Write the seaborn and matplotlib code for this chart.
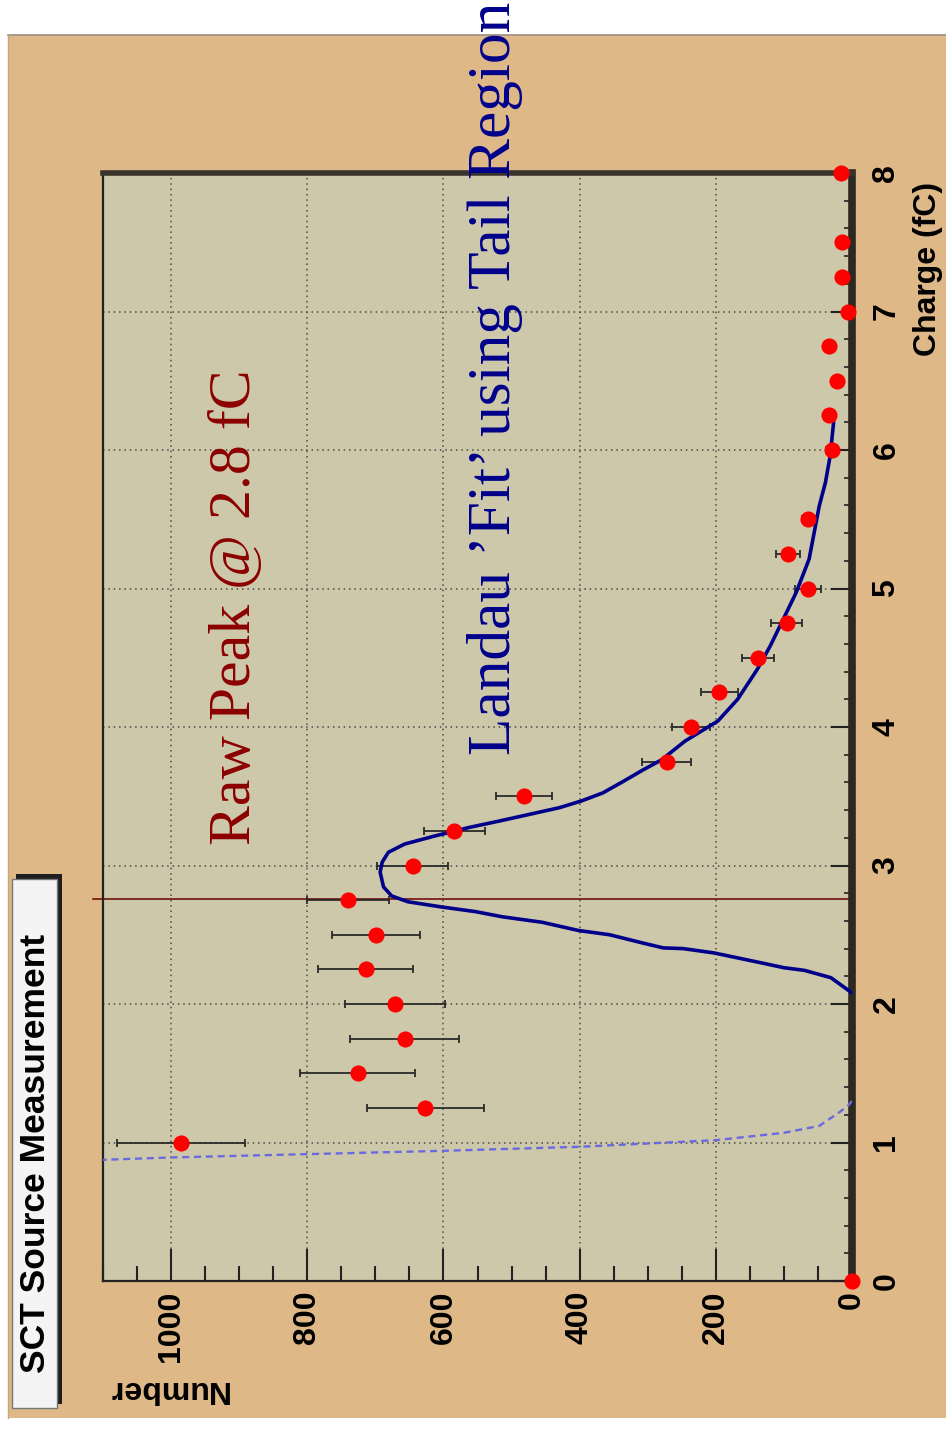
import numpy as np
import pandas as pd
import matplotlib
matplotlib.use('Agg')
import matplotlib.pyplot as plt
import seaborn as sns
from matplotlib.patches import Rectangle
from matplotlib.lines import Line2D
from matplotlib.ticker import FixedLocator, MultipleLocator

# ---------------- data ----------------
charge = [0.0, 1.0, 1.25, 1.5, 1.75, 2.0, 2.25, 2.5, 2.75, 3.0, 3.25, 3.5, 3.75,
          4.0, 4.25, 4.5, 4.75, 5.0, 5.25, 5.5, 6.0, 6.25, 6.5, 6.75, 7.0, 7.25, 7.5, 8.0]
counts = [0, 985, 627, 726, 657, 671, 714, 699, 740, 645, 584, 482, 272,
          237, 195, 138, 96, 64, 94, 64, 30, 34, 22, 34, 6, 15, 14, 16]
count_err = [0, 94, 86, 84, 80, 74, 70, 65, 60, 52, 45, 41, 36,
             28, 27, 23, 23, 19, 18, 10, 8, 7, 5, 6, 3, 4, 4, 4]

fit_charge = [2.08, 2.19, 2.243, 2.262, 2.298, 2.369, 2.40, 2.405, 2.44, 2.50, 2.531,
              2.59, 2.63, 2.667, 2.70, 2.738, 2.78, 2.845, 2.952, 3.024, 3.095, 3.155,
              3.214, 3.274, 3.32, 3.369, 3.417, 3.465, 3.524, 3.607, 3.69, 3.762, 3.899,
              4.043, 4.2, 4.417, 4.586, 4.778, 4.971, 5.212, 5.598, 5.766, 5.959, 6.2, 6.236]
fit_counts = [0, 31, 70, 100, 134, 203, 248, 277, 307, 356, 402,
              455, 514, 553, 602, 652, 676, 688, 693, 690, 681, 657,
              612, 563, 519, 474, 430, 398, 366, 336, 307, 280, 245,
              197, 168, 139, 120, 101, 82, 63, 48, 39, 32, 27, 28]

tail_charge = [0.874, 0.892, 0.916, 0.940, 0.969, 1.017, 1.07, 1.12, 1.22, 1.27, 1.30]
tail_counts = [1105, 1000, 800, 600, 400, 200, 100, 48, 18, 5, 0]

number_ticks = [0, 200, 400, 600, 800, 1000]
charge_ticks = [0, 1, 2, 3, 4, 5, 6, 7, 8]
peak_charge = 2.76

title_text = "SCT Source Measurement"
xlabel_text = "Charge (fC)"
ylabel_text = "Number"
peak_text = "Raw Peak @ 2.8 fC"
fit_text = "Landau \u2019Fit\u2019 using Tail Region"

# ---------------- figure ----------------
plt.rcParams['font.family'] = ['Liberation Sans', 'DejaVu Sans']

W, H = 946, 1431
fig = plt.figure(figsize=(W / 100, H / 100), dpi=100, facecolor='white')


def fx(px):
    return px / W


def fy(py):
    return 1 - py / H


# tan panel
fig.patches.append(Rectangle((fx(8), fy(1418)), 1 - fx(8), fy(35) - fy(1418),
                             transform=fig.transFigure, facecolor='#DEB887',
                             edgecolor='none', zorder=-2))
fig.add_artist(Line2D([fx(8), 1], [fy(35), fy(35)], transform=fig.transFigure,
                      color='#9a8f80', lw=1.2, zorder=-1))
fig.add_artist(Line2D([fx(8), fx(8)], [fy(35), fy(1418)], transform=fig.transFigure,
                      color='#c9a877', lw=1.0, zorder=-1))

# title box with shadow
fig.patches.append(Rectangle((fx(16), fy(1404)), fx(62) - fx(16), fy(874) - fy(1404),
                             transform=fig.transFigure, facecolor='#1e1e1e',
                             edgecolor='none', zorder=1))
fig.patches.append(Rectangle((fx(12), fy(1408)), fx(57) - fx(12), fy(879) - fy(1408),
                             transform=fig.transFigure, facecolor='#F4F4F4',
                             edgecolor='#777777', lw=1, zorder=2))
fig.text(fx(36), fy(1153), title_text, rotation=90, ha='center', va='center',
         fontsize=25.5, fontweight='bold', color='black', zorder=3)

# axes
ax = fig.add_axes([fx(103), fy(1281), fx(852) - fx(103), fy(173) - fy(1281)])
ax.set_facecolor('#CEC8AA')
ax.set_xlim(1100, 0)
ax.set_ylim(0, 8)

ax.xaxis.set_major_locator(FixedLocator(number_ticks))
ax.xaxis.set_minor_locator(MultipleLocator(50))
ax.yaxis.tick_right()
ax.yaxis.set_major_locator(FixedLocator(charge_ticks))
ax.yaxis.set_minor_locator(MultipleLocator(0.2))

ax.grid(True, which='major', color='#4a4a4a', lw=1.1, linestyle=(0, (1, 2.5)), zorder=1)
ax.set_axisbelow(True)

ax.tick_params(axis='x', which='major', direction='in', length=23, width=1.5,
               color='#222222', pad=7, labelsize=23, labelrotation=90,
               top=False, bottom=True)
ax.tick_params(axis='x', which='minor', direction='in', length=11, width=1.5,
               color='#222222', top=False, bottom=True)
ax.tick_params(axis='y', which='major', direction='in', length=15, width=1.5,
               color='#222222', right=True, left=False, labelright=True,
               labelleft=False, pad=14, labelsize=23, labelrotation=90)
ax.tick_params(axis='y', which='minor', direction='in', length=6, width=1.2,
               color='#222222', right=True, left=False)

for s, lw, c in [('right', 5.5, '#2e2823'), ('top', 4.0, '#3a332c'),
                 ('left', 1.6, '#222222'), ('bottom', 1.6, '#222222')]:
    ax.spines[s].set_linewidth(lw)
    ax.spines[s].set_color(c)

# peak marker line
ax.plot([1114, 0], [peak_charge, peak_charge], color='#6a0000', lw=1.1,
        clip_on=False, zorder=2)

# curves
sns.lineplot(x=tail_counts, y=tail_charge, sort=False, estimator=None,
             color='#6a6ae0', lw=1.7, linestyle=(0, (3, 2)), ax=ax, zorder=3)
sns.lineplot(x=fit_counts, y=fit_charge, sort=False, estimator=None,
             color='#00008B', lw=2.6, ax=ax, zorder=4,
             solid_joinstyle='round', solid_capstyle='round')

# data
ax.errorbar(counts, charge, xerr=count_err, fmt='none', ecolor='#2a2a2a',
            elinewidth=1.3, capsize=3, capthick=1.3, zorder=3)
sns.scatterplot(x=counts, y=charge, color='#FF0000', s=135, linewidth=0,
                ax=ax, zorder=6, clip_on=False)

ax.set_xlabel('')
ax.set_ylabel('')

for lab in ax.get_xticklabels():
    lab.set_fontweight('bold')
    lab.set_va('top')
    lab.set_ha('center')
for lab in ax.get_yticklabels():
    lab.set_fontweight('bold')
    lab.set_va('center')
    lab.set_ha('left')

# axis titles
fig.text(fx(928), fy(182), xlabel_text, rotation=90, ha='center', va='top',
         fontsize=23, fontweight='bold', color='black')
fig.text(fx(107), fy(1389), ylabel_text, rotation=180, ha='left', va='center',
         fontsize=23, fontweight='bold', color='black')

# annotations
fig.text(fx(250), fy(845), peak_text, rotation=90, rotation_mode='anchor',
         ha='left', va='baseline', family=['Liberation Serif', 'DejaVu Serif'],
         fontsize=43, color='#8B0000', zorder=5)
fig.text(fx(510), fy(755), fit_text, rotation=90, rotation_mode='anchor',
         ha='left', va='baseline', family=['Liberation Serif', 'DejaVu Serif'],
         fontsize=44.2, color='#00008B', zorder=5)

fig.savefig('out.png', dpi=100, facecolor='white')
